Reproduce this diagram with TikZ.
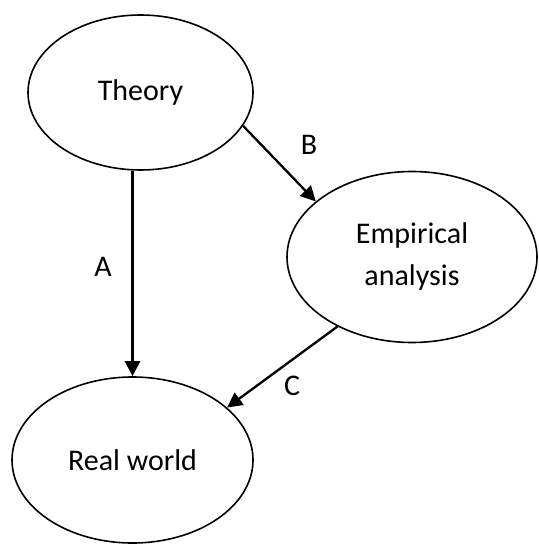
\documentclass[tikz,border=0pt]{standalone}
\usepackage{fontspec}
\setmainfont{Carlito}
\usetikzlibrary{shapes.geometric,arrows.meta}
\begin{document}
\begin{tikzpicture}[x=1pt,y=-1pt,
  ell/.style={draw, ellipse, line width=1.6pt, inner sep=0pt, align=center,
    font=\fontsize{30}{42}\selectfont},
  lab/.style={inner sep=0pt, font=\fontsize{30}{36}\selectfont},
  arr/.style={line width=2.3pt, -{Triangle[length=15pt,width=15pt]}}]
\path[use as bounding box] (0,0) rectangle (538,545);
\node[ell, minimum width=225pt, minimum height=155pt] (theory) at (140.5,92.5) {Theory};
\node[ell, minimum width=250pt, minimum height=171pt] (emp) at (412,257) {Empirical\\analysis};
\node[ell, minimum width=241pt, minimum height=166pt] (real) at (132.5,460) {Real world};
\node[lab] (la) at (103,267) {A};
\node[lab] (lb) at (309,145) {B};
\node[lab] (lc) at (292,386) {C};
\draw[arr] (theory.south -| real.north) -- (real.north);
\draw[arr] (theory.342) -- (emp.150);
\draw[arr] (emp.223) -- (real.29.5);
\end{tikzpicture}
\end{document}
